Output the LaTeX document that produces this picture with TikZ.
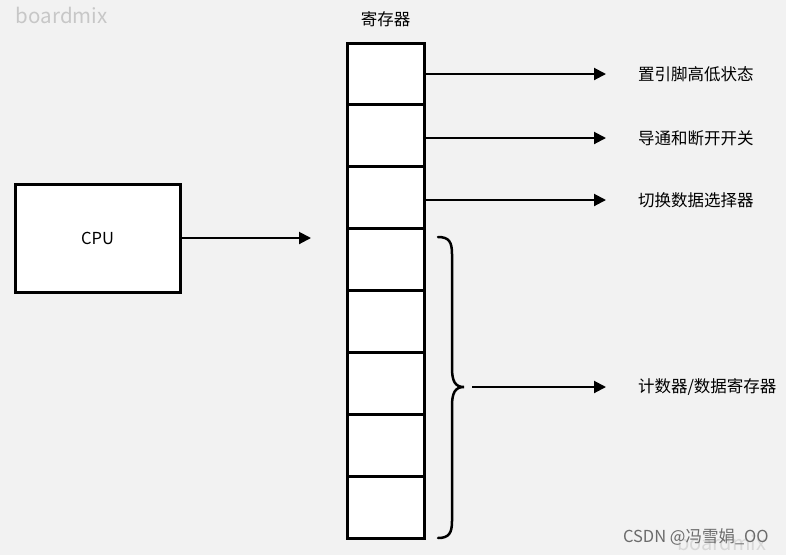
\documentclass[tikz,border=0pt]{standalone}
\usepackage{fontspec}
\setmainfont{Noto Sans CJK SC}
\usepackage{tikz}
\usetikzlibrary{positioning}
\usetikzlibrary{arrows.meta}
\definecolor{bggray}{rgb}{0.949,0.949,0.949}
\definecolor{markgray}{rgb}{0.78,0.78,0.78}
\definecolor{csdngray}{rgb}{0.42,0.42,0.42}

\begin{document}
\begin{tikzpicture}[
            x = 1pt, y = -1pt, % pixel grid
            > = {Triangle[length=12pt, width=12pt]}, % arrow head style
            line width = 2pt, % line style
            font = \fontsize{16.5}{18}\selectfont
        ]

        \tikzstyle{cell}=[
            draw,
            line width = 3pt,
            fill = white,
            minimum width = 77pt,
            minimum height = 61.9pt,
            inner sep = 0pt,
            outer sep = 0pt
        ]
        \tikzstyle{outtext}=[anchor = west, inner sep = 0pt]

        % background
        \fill[bggray] (0,0) rectangle (786,555);
        \useasboundingbox (0,0) rectangle (786,555);

        % watermarks
        \node[markgray, anchor = west, inner sep = 0pt, font = \fontsize{20.5}{22}\selectfont] (bm) at (15,15) {boardmix};
        \node[markgray!60!bggray, anchor = west, inner sep = 0pt, font = \fontsize{20}{22}\selectfont] (bm2) at (676,543) {boardmix};
        \node[csdngray, anchor = west, inner sep = 0pt, font = \fontsize{16.5}{18}\selectfont] (csdn) at (622,537) {CSDN @冯雪娟\_OO};

	% cpu
        \node[cell, minimum width = 165pt, minimum height = 108pt] (CPU) at (97.5,238) {CPU};
        \coordinate (C) at (311,238);
        \draw[->] (CPU) -- (C);

        % register cells
        \node[cell] (R1) at (385.5,74) {};
        \node[cell] (R2) [below = 0pt of R1] {};
        \node[cell] (R3) [below = 0pt of R2] {};
        \node[cell] (R4) [below = 0pt of R3] {};
        \node[cell] (R5) [below = 0pt of R4] {};
        \node[cell] (R6) [below = 0pt of R5] {};
        \node[cell] (R7) [below = 0pt of R6] {};
        \node[cell] (R8) [below = 0pt of R7] {};
        \node[inner sep = 0pt] (REG) [above = 15pt of R1] {寄存器};

        % outputs
        \node[outtext] (O1) at (637,74) {置引脚高低状态};
        \node[outtext] (O2) at (637,138) {导通和断开开关};
        \node[outtext] (O3) at (637,200) {切换数据选择器};
        \node[outtext] (O4) at (637,387) {计数器/数据寄存器};

        \draw[->, shorten > = 31pt] (R1.east) -- (R1.east -| O1.west);
        \draw[->, shorten > = 31pt] (R2.east |- O2.west) -- (O2.west);
        \draw[->, shorten > = 31pt] (R3.east |- O3.west) -- (O3.west);

        % brace over the lower cells
        \coordinate (B) at (464,387);
        \draw[line width = 2.5pt, line cap = round]
            (438,237) .. controls (449,237) and (452,242) .. (452,254)
            -- (452,368) .. controls (452,381) and (455,387) .. (B)
            .. controls (455,387) and (452,393) .. (452,406)
            -- (452,521) .. controls (452,533) and (449,538) .. (438,538);
        \draw[->, shorten < = 8pt, shorten > = 31pt] (B) -- (O4.west);

  \end{tikzpicture}
\end{document}
